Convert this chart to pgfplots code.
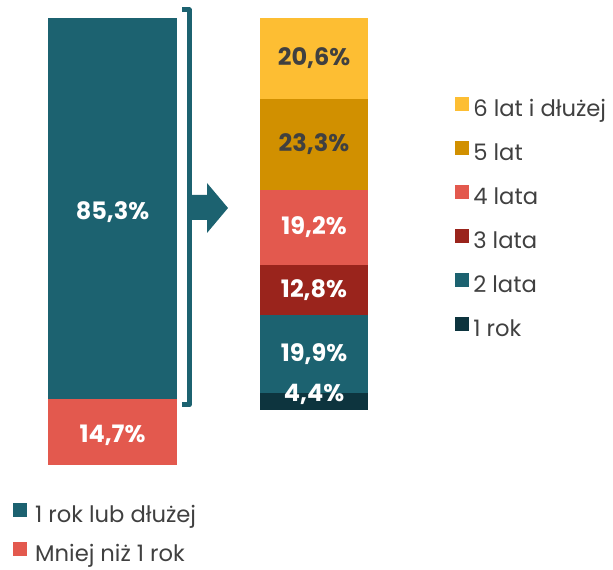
\documentclass[border=0pt]{standalone}
\usepackage{fontspec}
\setmainfont{Poppins}
\usepackage{pgfplots}
\pgfplotsset{compat=1.18}
\definecolor{cteal}{RGB}{28,98,112}
\definecolor{cred}{RGB}{227,89,78}
\definecolor{cyel}{RGB}{253,190,51}
\definecolor{cgold}{RGB}{209,144,0}
\definecolor{cdred}{RGB}{154,36,28}
\definecolor{cdark}{RGB}{13,52,62}
\definecolor{ctext}{RGB}{64,64,64}

\pgfplotsset{
  base/.style={scale only axis, hide axis, ymin=0, xmin=0, xmax=1,
    enlargelimits=false},
  segbar/.style={base, ybar stacked,
    legend image code/.code={\fill[##1] (0pt,-1.5pt) rectangle (10.5pt,9pt);},
    legend style={draw=none, fill=none, inner sep=0pt,
      font=\fontsize{17}{17}\selectfont\color{ctext},
      nodes={inner sep=0pt, text height=12pt, text depth=0pt}},
    legend cell align=left, reverse legend,
  },
  % value labels, placed at the middle of each segment
  lbl/.style={base, point meta=explicit symbolic, nodes near coords,
    nodes near coords style={font=\fontsize{18}{18}\selectfont\bfseries,
      anchor=center, inner sep=0pt}},
  lblplot/.style={only marks, mark=none, forget plot,
    every node near coord/.append style={text=#1}},
}

\begin{document}
\begin{tikzpicture}[x=0.75pt, y=0.75pt]
\path[use as bounding box] (0,0) rectangle (613,570);
\coordinate (L) at (48,105);
\coordinate (R) at (260,160);

% ---- left bar: staz < 1 rok / >= 1 rok ----
\begin{axis}[segbar, at={(L)}, anchor=south west,
    width=96.75pt, height=335.25pt, ymax=100, bar width=96.75pt,
    legend style={at={(-0.272,-0.0842)}, anchor=north west,
      /tikz/every odd column/.style={column sep=6pt},
      row sep=14.2pt}]
\addplot[fill=cred, draw=none] coordinates {(0.5,14.7)};
\addlegendentry{Mniej niż 1 rok}
\addplot[fill=cteal, draw=none] coordinates {(0.5,85.3)};
\addlegendentry{1 rok lub dłużej}
\end{axis}
\begin{axis}[lbl, at={(L)}, anchor=south west,
    width=96.75pt, height=335.25pt, ymax=100]
\addplot[lblplot=white] coordinates {(0.5,6.6)[14,7\%] (0.5,56.6)[85,3\%]};
\end{axis}

% ---- right bar: breakdown of 1 rok lub dluzej ----
\begin{axis}[segbar, at={(R)}, anchor=south west,
    width=81pt, height=294pt, ymax=100.2, bar width=81pt,
    legend style={at={(1.806,0.7996)}, anchor=north west,
      /tikz/every odd column/.style={column sep=3pt},
      row sep=18.0pt}]
\addplot[fill=cdark, draw=none] coordinates {(0.5,4.4)};
\addlegendentry{1 rok}
\addplot[fill=cteal, draw=none] coordinates {(0.5,19.9)};
\addlegendentry{2 lata}
\addplot[fill=cdred, draw=none] coordinates {(0.5,12.8)};
\addlegendentry{3 lata}
\addplot[fill=cred, draw=none] coordinates {(0.5,19.2)};
\addlegendentry{4 lata}
\addplot[fill=cgold, draw=none] coordinates {(0.5,23.3)};
\addlegendentry{5 lat}
\addplot[fill=cyel, draw=none] coordinates {(0.5,20.6)};
\addlegendentry{6 lat i dłużej}
\end{axis}
\begin{axis}[lbl, at={(R)}, anchor=south west,
    width=81pt, height=294pt, ymax=100.2]
\addplot[lblplot=white] coordinates {
  (0.5,3.9)[4,4\%] (0.5,14.35)[19,9\%] (0.5,30.7)[12,8\%] (0.5,46.7)[19,2\%]};
\addplot[lblplot=ctext] coordinates {
  (0.5,67.95)[23,3\%] (0.5,89.9)[20,6\%]};
\end{axis}

% bracket and arrow
\draw[cteal, line width=3.75pt, line join=round]
  (182,560) -- (189,560) -- (189,165) -- (182,165);
\fill[cteal] (189,375) -- (207,375) -- (207,387) -- (228,362)
  -- (207,337) -- (207,350) -- (189,350) -- cycle;
\end{tikzpicture}
\end{document}
